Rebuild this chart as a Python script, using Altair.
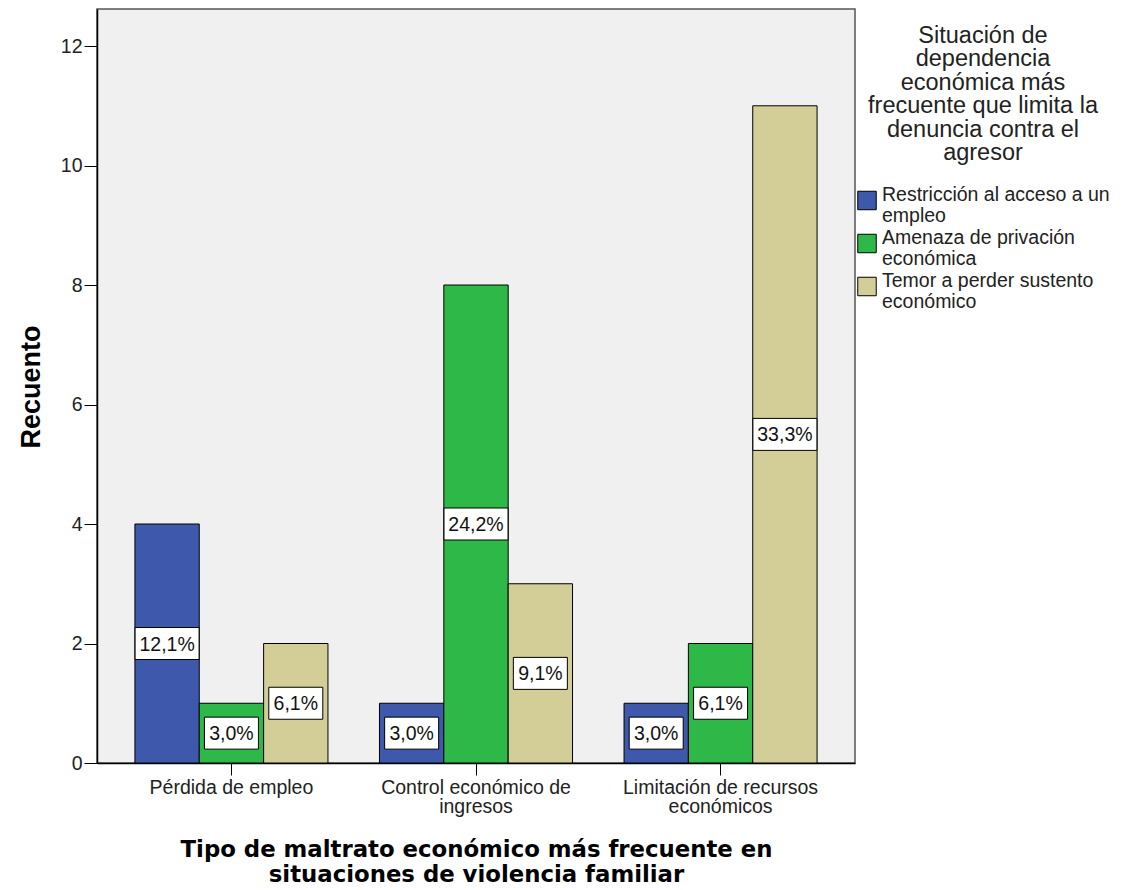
import altair as alt
import pandas as pd

categories = ["Pérdida de empleo", "Control económico de\ningresos", "Limitación de recursos\neconómicos"]
series = ["Restricción al acceso a un\nempleo", "Amenaza de privación\neconómica", "Temor a perder sustento\neconómico"]
counts_restriccion = [4, 1, 1]
counts_amenaza = [1, 8, 2]
counts_temor = [2, 3, 11]
pct_restriccion = ["12,1%", "3,0%", "3,0%"]
pct_amenaza = ["3,0%", "24,2%", "6,1%"]
pct_temor = ["6,1%", "9,1%", "33,3%"]
colors = ["#3E58AC", "#2EB848", "#D3CE97"]
legend_title = ["Situación de", "dependencia", "económica más", "frecuente que limita la",
                "denuncia contra el", "agresor"]
x_title = ["Tipo de maltrato económico más frecuente en", "situaciones de violencia familiar"]
y_title = "Recuento"
y_ticks = [0, 2, 4, 6, 8, 10, 12]

rows = []
for s, cs, ps in zip(series, [counts_restriccion, counts_amenaza, counts_temor],
                     [pct_restriccion, pct_amenaza, pct_temor]):
    for c, v, p in zip(categories, cs, ps):
        rows.append({"cat": c, "ser": s, "count": v, "pct": p})
df = pd.DataFrame(rows)

FONT = "Liberation Sans"
ysc = alt.Scale(domain=[0, 12.62], nice=False)

base = alt.Chart(df).encode(
    x=alt.X("cat:N", sort=categories,
            scale=alt.Scale(paddingInner=0.2106, paddingOuter=0.155),
            axis=alt.Axis(title=x_title, titleFont="DejaVu Sans", titleFontSize=22.8,
                          titleFontWeight="bold", titleLineHeight=25, titleColor="#000",
                          titleBaseline="alphabetic", titleY=93,
                          labelExpr="split(datum.label, '\\n')", labelFontSize=19.5,
                          labelLineHeight=19.5, labelAngle=0, labelColor="#222",
                          labelPadding=3, labelLimit=400, tickSize=12, tickColor="black",
                          domainColor="black", domainWidth=1.5)),
    xOffset=alt.XOffset("ser:N", sort=series, scale=alt.Scale(paddingInner=0, paddingOuter=0)),
)

yaxis = alt.Axis(values=y_ticks, format="d", title=y_title, titleFontSize=27, titleFontWeight="bold",
                 titleColor="#000", titleX=-58, titleY=377.5, titleBaseline="alphabetic",
                 tickSize=13, tickColor="black", labelFontSize=19.5, labelColor="#222",
                 labelPadding=2, grid=False, domainColor="black", domainWidth=1.5)

bars = base.mark_bar(stroke="black", strokeWidth=1).encode(
    y=alt.Y("count:Q", scale=ysc, axis=yaxis),
    color=alt.Color("ser:N", scale=alt.Scale(domain=series, range=colors),
                    legend=alt.Legend(title=legend_title, orient="none", legendX=760, legendY=15,
                                      titleAnchor="middle", titleAlign="center", titleFontSize=23.5,
                                      titleFontWeight="normal", titleLineHeight=23.4,
                                      titleLimit=400, titleBaseline="top", titlePadding=26,
                                      titleColor="#222",
                                      labelFontSize=19.5, labelLimit=400, labelColor="#222",
                                      labelBaseline="alphabetic",
                                      labelExpr="split(datum.label, '\\n')",
                                      symbolType="square", symbolSize=342,
                                      symbolStrokeColor="black", symbolStrokeWidth=1,
                                      symbolOpacity=1, labelOffset=5, rowPadding=2,
                                      padding=0)),
)

mid = base.transform_calculate(mid="datum.count / 2")

box5 = mid.transform_filter("length(datum.pct) >= 5").mark_point(
    shape="M-1,-0.5L1,-0.5L1,0.5L-1,0.5Z", size=4096, filled=True, fill="white",
    stroke="black", strokeWidth=1, opacity=1
).encode(y=alt.Y("mid:Q", scale=ysc, title=y_title))

box4 = mid.transform_filter("length(datum.pct) < 5").mark_point(
    shape="M-1,-0.5926L1,-0.5926L1,0.5926L-1,0.5926Z", size=2916, filled=True, fill="white",
    stroke="black", strokeWidth=1, opacity=1
).encode(y=alt.Y("mid:Q", scale=ysc, title=y_title))

texts = mid.mark_text(fontSize=19.5, color="#111", baseline="middle", dy=1).encode(
    y=alt.Y("mid:Q", scale=ysc, title=y_title), text="pct:N")

chart = alt.layer(bars, box5, box4, texts).properties(
    width=758, height=754, autosize="none",
    padding={"left": 89, "top": 1, "right": 259, "bottom": 119},
).configure(font=FONT).configure_view(fill="#F0F0F0", stroke="#555", strokeWidth=1.5)

chart.save("out.html", embed_options={"renderer": "svg", "actions": False})
